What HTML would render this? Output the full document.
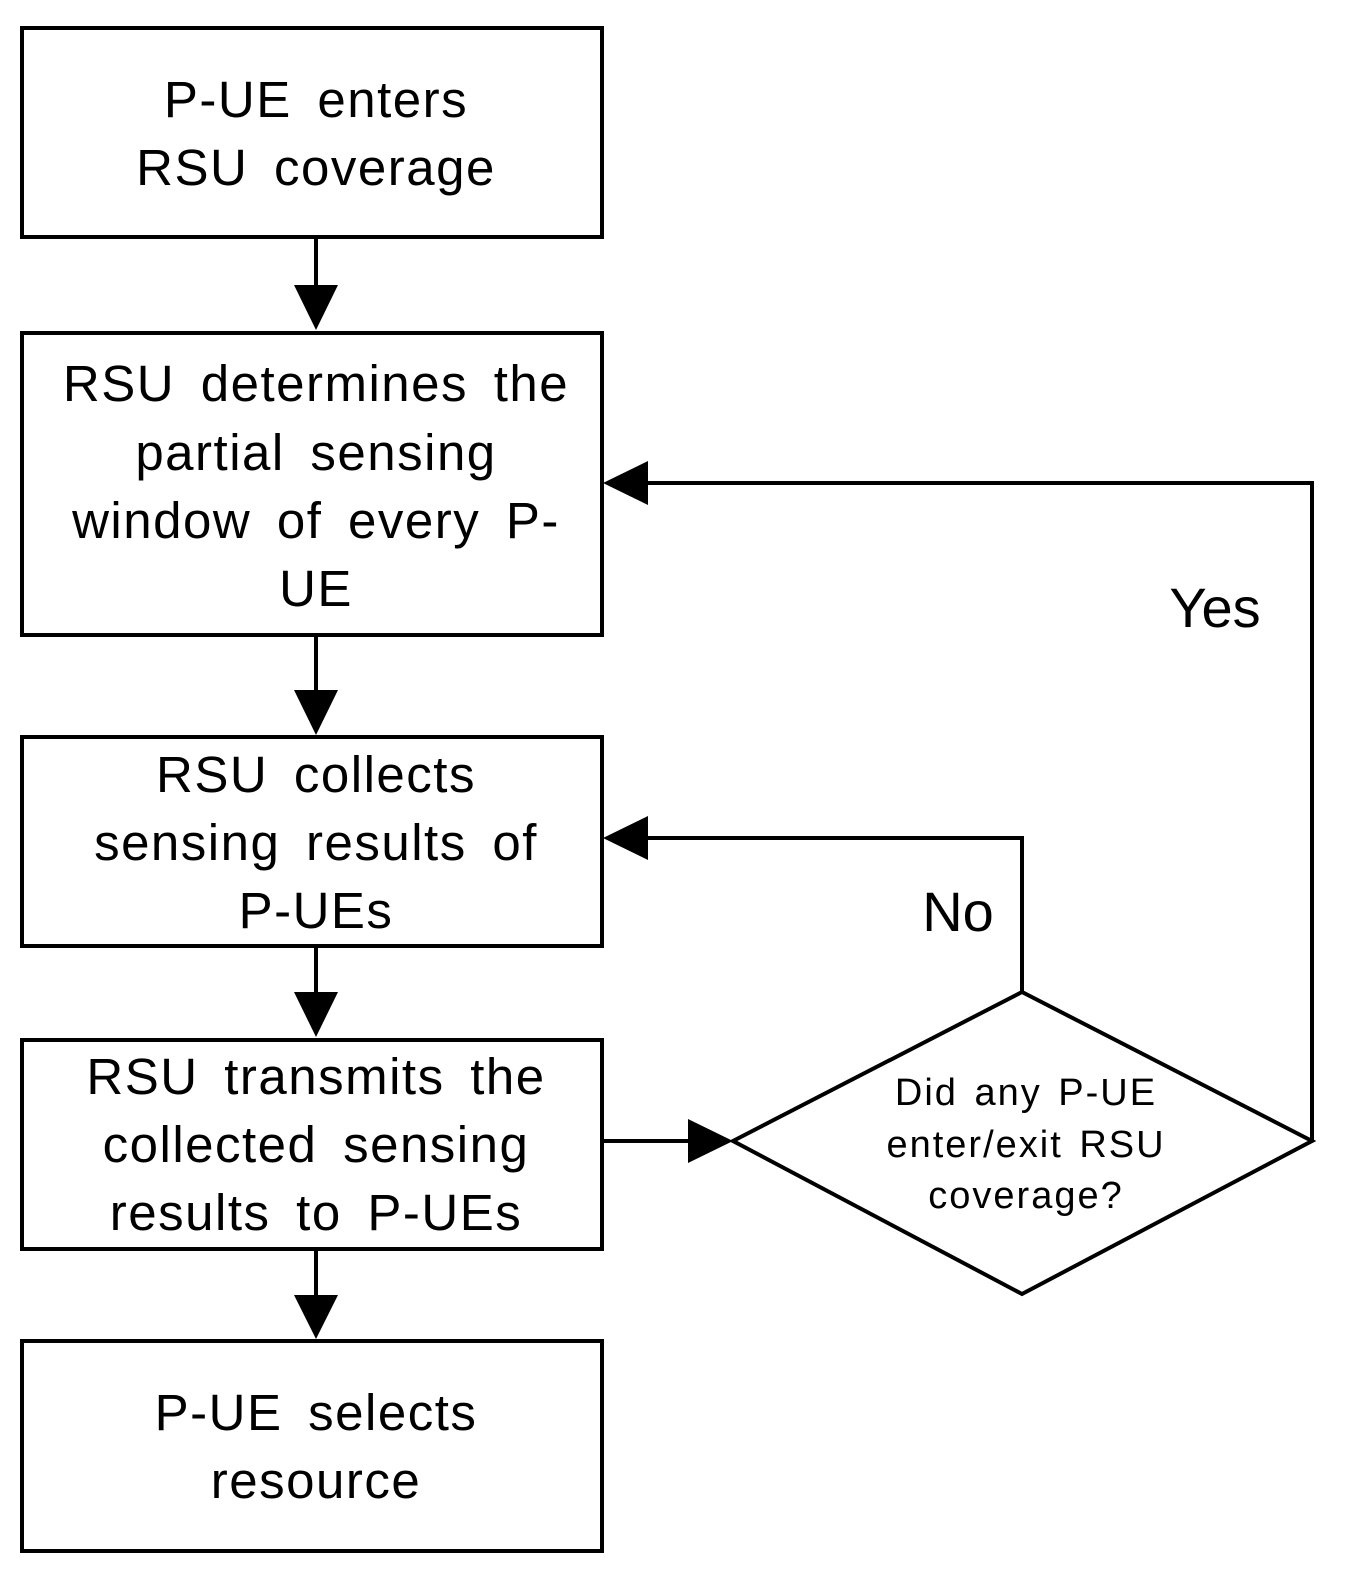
<!DOCTYPE html>
<html><head><style>body{margin:0;background:#fff}svg{display:block}text{font-family:"Liberation Sans","DejaVu Sans",sans-serif;fill:#000}</style></head>
<body>
<svg width="1352" height="1590" viewBox="0 0 1352 1590" xmlns="http://www.w3.org/2000/svg">
<g fill="none" stroke="#000" stroke-width="4">
<rect x="22" y="28" width="580" height="209"/>
<rect x="22" y="333" width="580" height="302"/>
<rect x="22" y="737" width="580" height="209"/>
<rect x="22" y="1040" width="580" height="209"/>
<rect x="22" y="1341" width="580" height="210"/>
<polygon points="733,1141 1022,992 1312,1141 1022,1294"/>
<line x1="316" y1="237" x2="316" y2="290"/>
<line x1="316" y1="635" x2="316" y2="694"/>
<line x1="316" y1="946" x2="316" y2="996"/>
<line x1="316" y1="1249" x2="316" y2="1298"/>
<line x1="602" y1="1141" x2="692" y2="1141"/>
<polyline points="1312,1141 1312,483 645,483"/>
<polyline points="1022,992 1022,838 645,838"/>
</g>
<g fill="#000">
<polygon points="294,285 338,285 316,330"/>
<polygon points="294,690 338,690 316,735"/>
<polygon points="294,992 338,992 316,1037"/>
<polygon points="294,1295 338,1295 316,1339"/>
<polygon points="688,1119 688,1163 733,1141"/>
<polygon points="648,461 648,505 603,483"/>
<polygon points="648,816 648,860 603,838"/>
</g>
<g font-size="51" text-anchor="middle" style="letter-spacing:1.5px;word-spacing:10px">
<text x="316" y="117">P-UE enters</text>
<text x="316" y="185">RSU coverage</text>
<text x="316" y="401">RSU determines the</text>
<text x="316" y="470">partial sensing</text>
<text x="316" y="538">window of every P-</text>
<text x="316" y="606">UE</text>
<text x="316" y="792">RSU collects</text>
<text x="316" y="860">sensing results of</text>
<text x="316" y="928">P-UEs</text>
<text x="316" y="1094">RSU transmits the</text>
<text x="316" y="1162">collected sensing</text>
<text x="316" y="1230">results to P-UEs</text>
<text x="316" y="1430">P-UE selects</text>
<text x="316" y="1498">resource</text>
</g>
<g font-size="38" text-anchor="middle" style="letter-spacing:2px;word-spacing:4px">
<text x="1026" y="1105">Did any P-UE</text>
<text x="1026" y="1157">enter/exit RSU</text>
<text x="1026" y="1208">coverage?</text>
</g>
<text x="1215" y="627" font-size="56" text-anchor="middle">Yes</text>
<text x="958" y="931" font-size="56" text-anchor="middle">No</text>
</svg>
</body></html>
